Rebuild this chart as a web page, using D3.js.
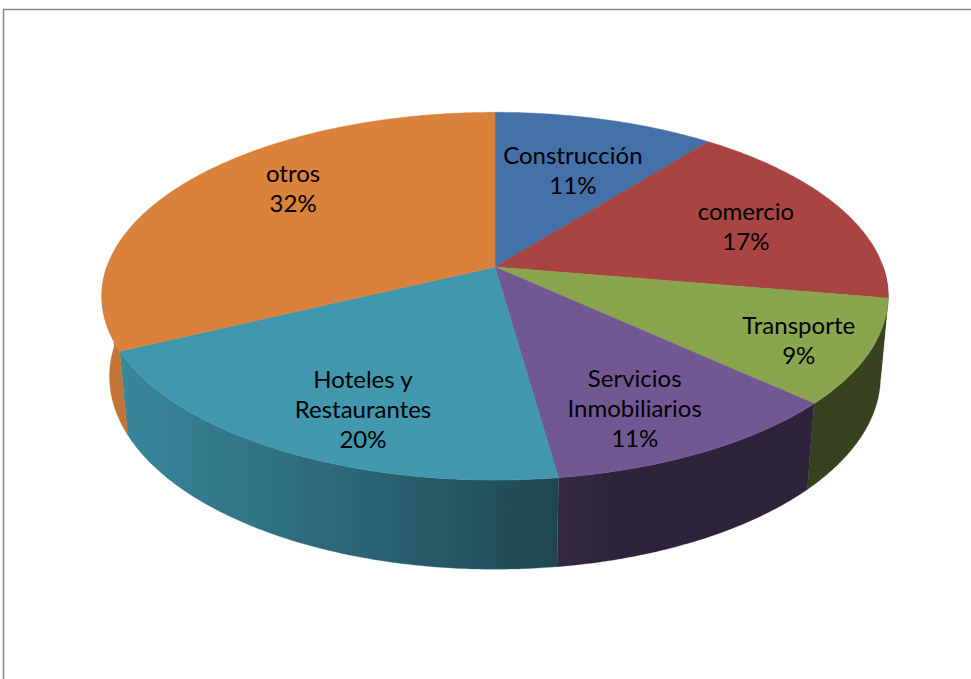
<!DOCTYPE html>
<html>
<head>
<meta charset="utf-8">
<script src="https://cdn.jsdelivr.net/npm/d3@7"></script>
<style>
  html, body { margin: 0; padding: 0; background: #fff; }
  svg { display: block; }
</style>
</head>
<body>
<div id="chart"></div>
<script>
// slice data, clockwise from 12 o'clock
const categories = ["Construcción", "comercio", "Transporte", "Servicios Inmobiliarios", "Hoteles y Restaurantes", "otros"];
const labelLines = [["Construcción"], ["comercio"], ["Transporte"], ["Servicios", "Inmobiliarios"], ["Hoteles y", "Restaurantes"], ["otros"]];
const values = [10.6, 17.1, 9.2, 10.9, 20.0, 32.2];
const colors = ["#4471a8", "#a84543", "#89a54e", "#715893", "#4097ae", "#da823c"];
// label placement (fraction of radius, turn in degrees), Excel "best fit" look
const labelRadius = [0.63, 0.71, 0.83, 0.77, 0.77, 0.73];
const labelTurn = [1.3, 1.8, 1.5, 3, -5, 8];

const width = 971, height = 679;

// 3D view settings
const cx = 495, cy = 267;
const phi = 27.5 * Math.PI / 180;
const dist = 5.59, focal = 2170, thick = 0.235;
const sinP = Math.sin(phi), cosP = Math.cos(phi);
const deg = Math.PI / 180;

// perspective projection of a point on the disk (y = 0 top, y = -thick bottom)
function project(X, Y, Z) {
  const yc = Y * cosP - Z * sinP;
  const zc = dist - Y * sinP - Z * cosP;
  return [cx + focal * X / zc, cy - focal * yc / zc];
}
function rim(a, r, Y) {
  return project(r * Math.sin(a), Y, -r * Math.cos(a));
}

const svg = d3.select("#chart").append("svg")
  .attr("width", width)
  .attr("height", height);

// outer frame
svg.append("rect")
  .attr("x", 3.5).attr("y", 9.5)
  .attr("width", 1200).attr("height", 1200)
  .attr("fill", "none")
  .attr("stroke", "#8a8a8a")
  .attr("stroke-width", 1.5);

const total = d3.sum(values);
const pie = d3.pie().sort(null).value(d => d)(values);
const line = d3.line();
const pct = d3.format(".0%");
const defs = svg.append("defs");

// shade for the side wall, lit from the left-front
function shade(color, a) {
  const b = 0.4 + 0.5 * Math.max(0, Math.cos(a - 255 * deg));
  const c = d3.rgb(color);
  return d3.rgb(c.r * b, c.g * b, c.b * b).formatHex();
}

function arcPts(a0, a1, Y) {
  const n = Math.max(2, Math.ceil((a1 - a0) / (0.5 * deg)));
  return d3.range(n + 1).map(k => rim(a0 + (a1 - a0) * k / n, 1, Y));
}

// side walls: only the front half (90..270 deg) can be seen
const walls = svg.append("g");
pie.forEach((p, i) => {
  const a0 = Math.max(p.startAngle, 90 * deg);
  const a1 = Math.min(p.endAngle, 270 * deg);
  if (a1 <= a0) return;
  const pts = arcPts(a0, a1, 0).concat(arcPts(a0, a1, -thick).reverse());

  // horizontal gradient following the shading along the rim
  const n = 24;
  const samples = d3.range(n + 1).map(k => {
    const a = a0 + (a1 - a0) * k / n;
    return { x: rim(a, 1, 0)[0], c: shade(colors[i], a) };
  });
  const x1 = samples[0].x, x2 = samples[n].x;
  const id = "wall" + i;
  const grad = defs.append("linearGradient")
    .attr("id", id)
    .attr("gradientUnits", "userSpaceOnUse")
    .attr("x1", x1).attr("y1", 0)
    .attr("x2", x2).attr("y2", 0);
  grad.selectAll("stop")
    .data(samples)
    .join("stop")
    .attr("offset", d => Math.abs(x2 - x1) < 1e-6 ? 0 : (d.x - x1) / (x2 - x1))
    .attr("stop-color", d => d.c);

  walls.append("path")
    .attr("d", line(pts) + "Z")
    .attr("fill", `url(#${id})`)
    .attr("stroke", shade(colors[i], (a0 + a1) / 2))
    .attr("stroke-width", 0.3);
});

// top faces
svg.append("g").selectAll("path")
  .data(pie)
  .join("path")
  .attr("d", p => line([project(0, 0, 0)].concat(arcPts(p.startAngle, p.endAngle, 0))) + "Z")
  .attr("fill", (p, i) => colors[i])
  .attr("stroke", (p, i) => colors[i])
  .attr("stroke-width", 0.5);

// data labels
const labels = svg.append("g")
  .attr("font-family", "Lato, 'Open Sans', sans-serif")
  .attr("font-size", 24)
  .attr("fill", "#000")
  .attr("text-anchor", "middle");

pie.forEach((p, i) => {
  const am = (p.startAngle + p.endAngle) / 2 + labelTurn[i] * deg;
  const [lx, ly] = rim(am, labelRadius[i], 0);
  const rows = labelLines[i].concat([pct(values[i] / total)]);
  const lh = 30;
  const top = ly - (rows.length - 1) * lh / 2;
  rows.forEach((t, j) => {
    labels.append("text")
      .attr("x", lx)
      .attr("y", top + j * lh)
      .attr("dy", "0.35em")
      .text(t);
  });
});
</script>
</body>
</html>
